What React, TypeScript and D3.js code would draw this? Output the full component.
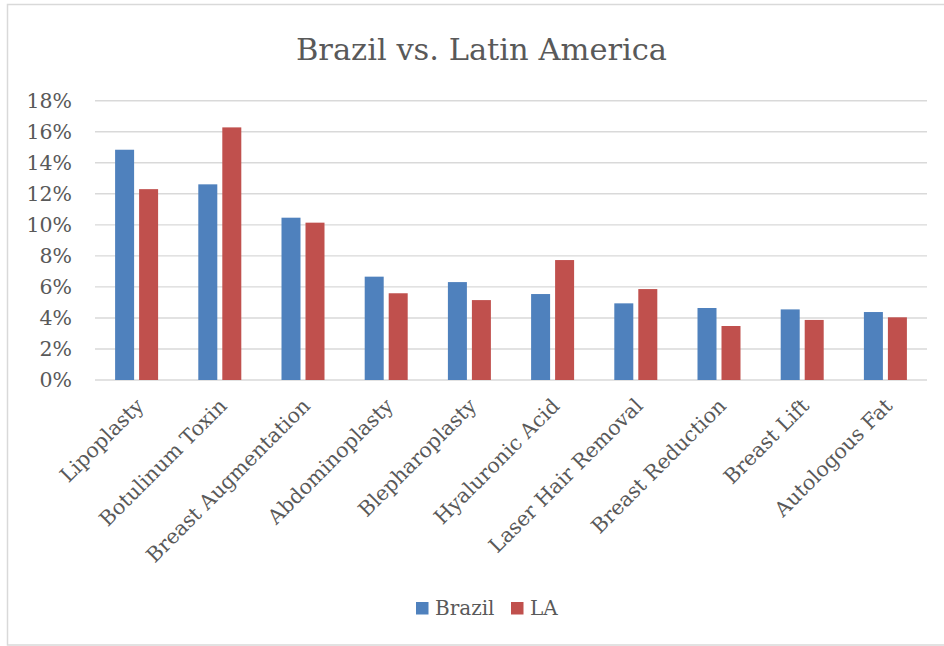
import React from "react";
import * as d3 from "d3";

const categories = [
  "Lipoplasty",
  "Botulinum Toxin",
  "Breast Augmentation",
  "Abdominoplasty",
  "Blepharoplasty",
  "Hyaluronic Acid",
  "Laser Hair Removal",
  "Breast Reduction",
  "Breast Lift",
  "Autologous Fat",
];
const brazil = [14.84, 12.61, 10.46, 6.66, 6.31, 5.54, 4.94, 4.64, 4.55, 4.38];
const la = [12.3, 16.28, 10.14, 5.59, 5.15, 7.73, 5.86, 3.48, 3.87, 4.04];
const seriesNames = ["Brazil", "LA"];
const seriesColors = ["#4F81BD", "#C0504D"];
const yTicks = [0, 2, 4, 6, 8, 10, 12, 14, 16, 18];

const FONT = "'DejaVu Serif', serif";
const TEXT = "#595959";

export default function App() {
  const W = 944;
  const H = 646;
  const plotLeft = 95;
  const plotRight = 927;
  const y0 = 380;
  const yTop = 100.7;

  const x = d3.scaleBand<string>().domain(categories).range([plotLeft, plotRight]).padding(0);
  const bw = x.bandwidth();
  const x1 = d3
    .scaleBand<string>()
    .domain(seriesNames)
    .range([bw / 2 - 21.5, bw / 2 + 21.5])
    .paddingInner(5 / 24)
    .paddingOuter(0);
  const y = d3.scaleLinear().domain([0, 18]).range([y0, yTop]);
  const data = [brazil, la];

  return (
    <svg
      width={W}
      height={H}
      style={{ position: "absolute", left: 0, top: 0, background: "#fff" }}
    >
      <rect x={0} y={0} width={W} height={H} fill="#fff" />
      <rect x={7.5} y={4.5} width={960} height={640.5} fill="none" stroke="#d9d9d9" strokeWidth={1.5} />
      <text
        x={481.5}
        y={60}
        textAnchor="middle"
        fontFamily={FONT}
        fontSize={30.5}
        fill={TEXT}
      >
        Brazil vs. Latin America
      </text>
      {yTicks.map((t) => (
        <line
          key={t}
          x1={plotLeft}
          x2={plotRight}
          y1={y(t)}
          y2={y(t)}
          stroke="#d9d9d9"
          strokeWidth={1.4}
        />
      ))}
      {yTicks.map((t) => (
        <text
          key={"l" + t}
          x={72}
          y={y(t)}
          dy="0.36em"
          textAnchor="end"
          fontFamily={FONT}
          fontSize={20.5}
          fill={TEXT}
        >
          {t + "%"}
        </text>
      ))}
      {categories.map((c, i) => (
        <g key={c} transform={`translate(${x(c)},0)`}>
          {seriesNames.map((s, k) => (
            <rect
              key={s}
              x={x1(s)}
              y={y(data[k][i])}
              width={x1.bandwidth()}
              height={y0 - y(data[k][i])}
              fill={seriesColors[k]}
            />
          ))}
        </g>
      ))}
      {categories.map((c) => {
        const cx = (x(c) as number) + bw / 2 + 3;
        const cy = 402;
        return (
          <text
            key={"x" + c}
            transform={`translate(${cx},${cy}) rotate(-45)`}
            textAnchor="end"
            dy="0.36em"
            fontFamily={FONT}
            fontSize={20.5}
            fill={TEXT}
          >
            {c}
          </text>
        );
      })}
      <rect x={416} y={602} width={12.5} height={12.5} fill={seriesColors[0]} />
      <text x={435} y={614.5} fontFamily={FONT} fontSize={20} fill={TEXT}>
        Brazil
      </text>
      <rect x={511} y={602} width={12.5} height={12.5} fill={seriesColors[1]} />
      <text x={530} y={614.5} fontFamily={FONT} fontSize={20} fill={TEXT}>
        LA
      </text>
    </svg>
  );
}
